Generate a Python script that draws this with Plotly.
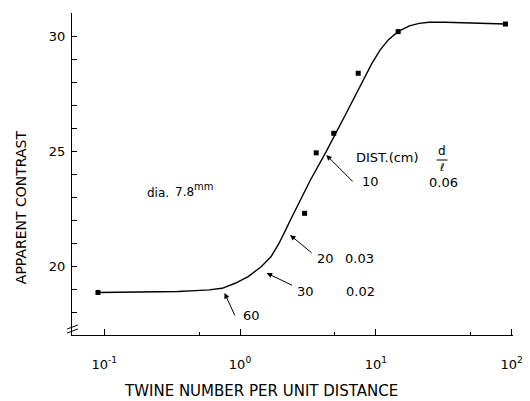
import plotly.graph_objects as go

# ---- data ----
point_x = [0.09, 2.99, 3.64, 4.9, 7.42, 14.6, 90]
point_y = [18.88, 22.32, 24.95, 25.8, 28.41, 30.22, 30.55]

curve_x = [0.09, 0.2, 0.35, 0.474, 0.592, 0.738, 0.921, 1.148, 1.432, 1.69, 1.94,
           2.17, 2.35, 3.30, 4.30, 6.0, 8.16, 9.36, 10.74, 12.34, 14.57, 17.65,
           20.84, 24.6, 32.4, 90]
curve_y = [18.88, 18.9, 18.92, 18.96, 18.99, 19.06, 19.28, 19.57, 20.0, 20.43, 21.02,
           21.60, 22.03, 23.77, 24.99, 26.63, 28.12, 28.84, 29.42, 29.86, 30.22, 30.47,
           30.58, 30.63, 30.63, 30.55]

x_tickvals = [0.1, 1, 10, 100]
x_ticktext = ["10<sup>-1</sup>", "10<sup>0</sup>", "10<sup>1</sup>", "10<sup>2</sup>"]
x_minor = [0.5, 5, 50]
y_tickvals = [20, 25, 30]

W, H = 530, 401
L, R, T, B = 72, 7, 13, 66
PW, PH = W - L - R, H - T - B
FONT = "DejaVu Sans"


def P(px, py):
    return (px - L) / PW, (H - B - py) / PH


fig = go.Figure()
fig.add_trace(go.Scatter(x=curve_x, y=curve_y, mode="lines",
                         line=dict(color="black", width=1.4), hoverinfo="skip"))
fig.add_trace(go.Scatter(x=point_x, y=point_y, mode="markers",
                         marker=dict(symbol="square", size=5, color="black")))

ann = []


def text(s, px, py, size=13, **kw):
    x, y = P(px, py)
    ann.append(dict(text=s, x=x, y=y, xref="paper", yref="paper", showarrow=False,
                    font=dict(family=FONT, size=size, color="black"),
                    xanchor="center", yanchor="middle", **kw))


def arrow(hx, hy, tx, ty):
    x, y = P(hx, hy)
    ann.append(dict(text="", x=x, y=y, xref="paper", yref="paper", showarrow=True,
                    ax=tx - hx, ay=ty - hy, arrowhead=2, arrowsize=1.1, arrowwidth=1,
                    arrowcolor="black", standoff=0))


text("dia.", 160, 193, 12)
text("7.8", 187, 192, 12)
text("mm", 206, 186, 10)
text("DIST.(cm)", 395, 157, 13)
text("d", 450, 151, 12)
text("ℓ", 450, 167, 11)
text("10", 377, 181, 13)
text("0.06", 452, 182, 13)
text("20", 331, 258, 13)
text("0.03", 366, 258, 13)
text("30", 311, 291, 13)
text("0.02", 367, 291, 13)
text("60", 256, 315, 13)
text("TWINE NUMBER PER UNIT DISTANCE", 265, 391, 15)
text("APPARENT CONTRAST", 20, 207, 14, textangle=-90)

arrow(332, 155, 360, 183)
arrow(295, 235, 318, 254)
arrow(271, 273, 298, 286)
arrow(228, 293, 239, 317)

shapes = []
x0, y0 = P(445, 160)
x1, y1 = P(456, 160)
shapes.append(dict(type="line", xref="paper", yref="paper", x0=x0, y0=y0, x1=x1, y1=y1,
                   line=dict(color="black", width=1)))
for dy in (0, 4):
    a0, b0 = P(67, 329 + dy)
    a1, b1 = P(78, 325 + dy)
    shapes.append(dict(type="line", xref="paper", yref="paper", x0=a0, y0=b0, x1=a1, y1=b1,
                       line=dict(color="black", width=1)))

fig.update_layout(
    width=W, height=H,
    margin=dict(l=L, r=R, t=T, b=B),
    paper_bgcolor="white", plot_bgcolor="white",
    showlegend=False,
    font=dict(family=FONT, size=13, color="black"),
    annotations=ann, shapes=shapes,
    xaxis=dict(type="log", range=[-1.237, 2.01], showline=True, linecolor="black",
               linewidth=1.2, showgrid=False, zeroline=False,
               tickvals=x_tickvals, ticktext=x_ticktext, ticks="inside", ticklen=6,
               tickcolor="black", ticklabelstandoff=17, ticklabeloverflow="allow",
               minor=dict(tickvals=x_minor, ticks="inside", ticklen=3, tickcolor="black")),
    yaxis=dict(range=[17.03, 31.03], showline=True, linecolor="black", linewidth=1.2,
               showgrid=False, zeroline=False, tickvals=y_tickvals,
               ticks="inside", ticklen=5, tickcolor="black", ticklabelstandoff=3,
               minor=dict(dtick=1, ticks="inside", ticklen=5, tickcolor="black")),
)

fig.write_html("out.html", config={"displayModeBar": False},
               post_script="document.body.style.margin='0';")
